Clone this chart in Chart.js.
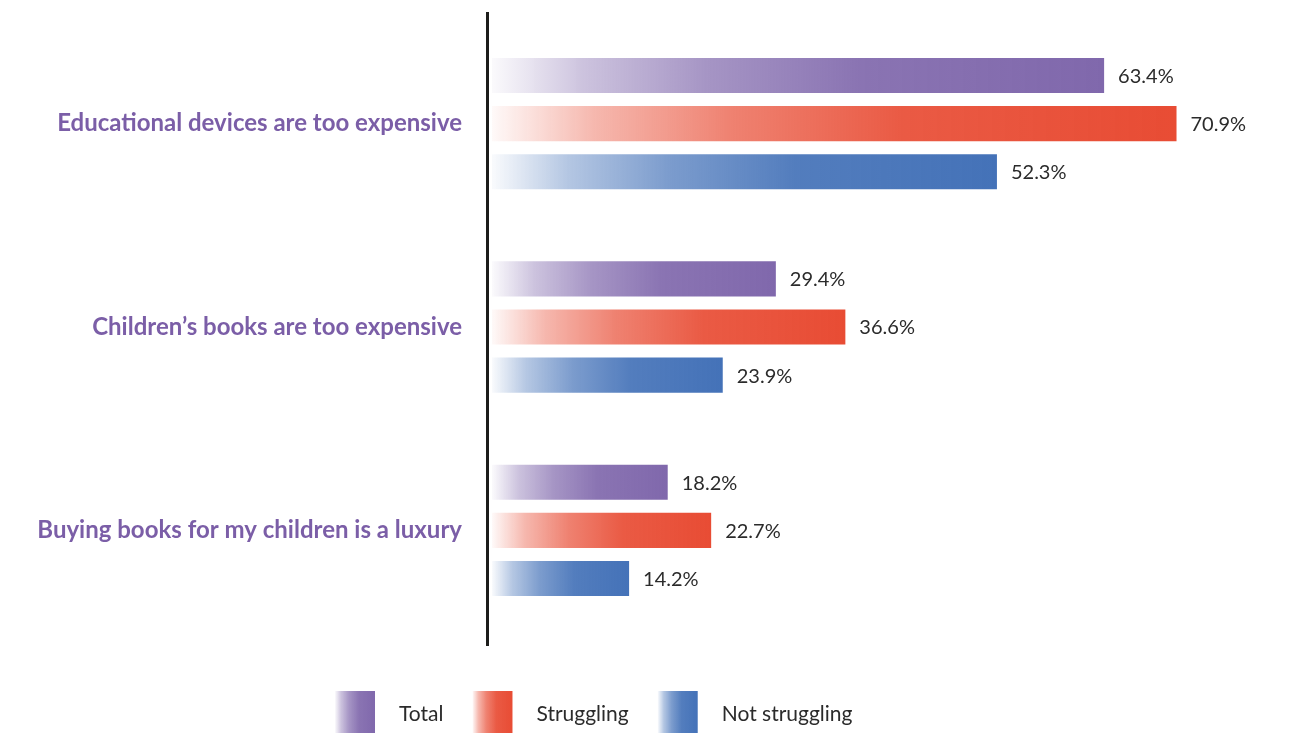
<!DOCTYPE html>
<html>
<head>
<meta charset="utf-8">
<title>Cost barriers to children's reading</title>
<script src="https://cdn.jsdelivr.net/npm/chart.js@4.4.1/dist/chart.umd.min.js"></script>
<style>
  html, body { margin: 0; padding: 0; background: #fff; }
  #wrap { width: 1313px; height: 733px; position: relative; }
</style>
</head>
<body>
<div id="wrap"><canvas id="barChart"></canvas></div>
<script>
const categories = [
    'Educational devices are too expensive',
    'Children\u2019s books are too expensive',
    'Buying books for my children is a luxury'
];
const seriesNames = ['Total', 'Struggling', 'Not struggling'];
const totalValues = [63.4, 29.4, 18.2];
const strugglingValues = [70.9, 36.6, 22.7];
const notStrugglingValues = [52.3, 23.9, 14.2];
const seriesColors = [[128, 104, 172], [232, 76, 52], [68, 114, 184]];

const FONT = 'Lato, "Open Sans", sans-serif';

// white -> colour ramp, quick at the start and flattening out at the end
const rampStops = [[0, 0.03], [0.15, 0.4], [0.35, 0.7], [0.6, 0.92], [1, 1]];

function rgba(c, a) {
    return `rgba(${c[0]},${c[1]},${c[2]},${a})`;
}

function ramp(g, c) {
    rampStops.forEach(([pos, a]) => g.addColorStop(pos, rgba(c, a)));
    return g;
}

function barFill(ctx, c) {
    const chart = ctx.chart;
    const x = chart.scales.x;
    if (!chart.chartArea || !x || ctx.type !== 'data') return rgba(c, 1);
    const x0 = x.getPixelForValue(0);
    const x1 = x.getPixelForValue(ctx.raw);
    if (x1 - x0 < 1) return rgba(c, 1);
    return ramp(chart.ctx.createLinearGradient(x0, 0, x1, 0), c);
}

// value labels to the right of each bar
const valueLabels = {
    id: 'valueLabels',
    afterDatasetsDraw(chart) {
        const ctx = chart.ctx;
        ctx.save();
        ctx.font = '20px ' + FONT;
        ctx.fillStyle = '#2b2b2b';
        ctx.textAlign = 'left';
        ctx.textBaseline = 'middle';
        chart.data.datasets.forEach((ds, i) => {
            chart.getDatasetMeta(i).data.forEach((bar, j) => {
                ctx.fillText(ds.data[j].toFixed(1) + '%', bar.x + 14, bar.y + 1);
            });
        });
        ctx.restore();
    }
};

// thick vertical axis line, a bit longer than the plot area
const axisLine = {
    id: 'axisLine',
    afterDraw(chart) {
        const { ctx, chartArea } = chart;
        ctx.save();
        ctx.fillStyle = '#1d1d1b';
        ctx.fillRect(chartArea.left - 6, chartArea.top - 10, 3, chartArea.bottom - chartArea.top + 24);
        ctx.restore();
    }
};

// legend with gradient swatches
const swatchLegend = {
    id: 'swatchLegend',
    afterDraw(chart) {
        const ctx = chart.ctx;
        const boxW = 40, boxH = 42, top = 691;
        let x = 335;
        ctx.save();
        ctx.font = '21px ' + FONT;
        ctx.textBaseline = 'middle';
        chart.data.datasets.forEach((ds, i) => {
            const c = seriesColors[i];
            ctx.fillStyle = ramp(ctx.createLinearGradient(x, 0, x + boxW, 0), c);
            ctx.fillRect(x, top, boxW, boxH);
            x += boxW + 24;
            ctx.fillStyle = '#2b2b2b';
            ctx.fillText(ds.label, x, top + 23);
            x += ctx.measureText(ds.label).width + 29;
        });
        ctx.restore();
    }
};

const valueSets = [totalValues, strugglingValues, notStrugglingValues];

new Chart(document.getElementById('barChart'), {
    type: 'bar',
    data: {
        labels: categories,
        datasets: seriesNames.map((name, i) => ({
            label: name,
            data: valueSets[i],
            backgroundColor: ctx => barFill(ctx, seriesColors[i]),
            borderWidth: 0,
            categoryPercentage: 0.71,
            barPercentage: 0.73
        }))
    },
    options: {
        indexAxis: 'y',
        responsive: true,
        maintainAspectRatio: false,
        animation: false,
        layout: { padding: { top: 22, bottom: 101, left: 0, right: 10 } },
        plugins: {
            legend: { display: false },
            tooltip: { enabled: false }
        },
        scales: {
            x: {
                display: false,
                min: 0,
                max: 84
            },
            y: {
                grid: { display: false },
                border: { display: false },
                ticks: {
                    color: '#7b5ea7',
                    font: { family: FONT, size: 24, weight: 'bold' },
                    padding: 22
                },
                afterFit(scale) {
                    scale.width = 492;
                    // labels sit inside their bands, no overflow padding needed
                    scale.paddingTop = 0;
                    scale.paddingBottom = 0;
                }
            }
        }
    },
    plugins: [valueLabels, axisLine, swatchLegend]
});
</script>
</body>
</html>
